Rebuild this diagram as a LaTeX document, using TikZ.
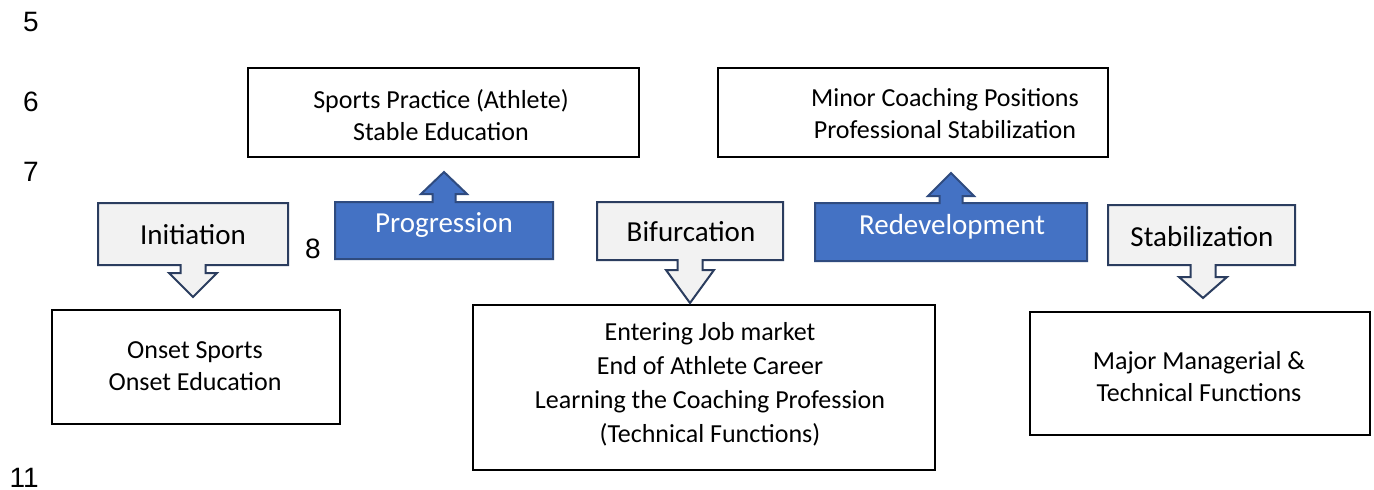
\documentclass[tikz,border=0pt]{standalone}
\usepackage{fontspec}
\setmainfont{Carlito}
\newfontfamily\numfont{Liberation Sans}
\definecolor{lightfill}{HTML}{F2F2F2}
\definecolor{navyline}{HTML}{2B3D5F}
\definecolor{bluefill}{HTML}{4472C4}
\definecolor{blueline}{HTML}{2F4B7F}
\newcommand{\calldown}[8]{\draw[#1] (#2,#3) -- (#4,#3) -- (#4,#5) -- ({#6+12.5},#5) -- ({#6+12.5},#7) -- ({#6+24},#7) -- (#6,#8) -- ({#6-24},#7) -- ({#6-12.5},#7) -- ({#6-12.5},#5) -- (#2,#5) -- cycle;}
\newcommand{\callup}[8]{\draw[#1] (#2,#5) -- (#2,#3) -- ({#6-11.5},#3) -- ({#6-11.5},#7) -- ({#6-23},#7) -- (#6,#8) -- ({#6+23},#7) -- ({#6+11.5},#7) -- ({#6+11.5},#3) -- (#4,#3) -- (#4,#5) -- cycle;}
\tikzset{
  stagebox/.style={draw=black, line width=1.6pt, fill=white, inner sep=0pt},
  boxtext/.style={font=\fontsize{26}{32}\selectfont, align=center, inner sep=0pt},
  lightcall/.style={draw=navyline, fill=lightfill, line width=2pt, line join=miter},
  bluecall/.style={draw=blueline, fill=bluefill, line width=2pt, line join=miter},
  calltext/.style={font=\fontsize{29}{34}\selectfont, inner sep=0pt},
  numtext/.style={font=\numfont\fontsize{28}{32}\selectfont, inner sep=0pt, anchor=east}
}
\begin{document}
\begin{tikzpicture}[x=1pt,y=-1pt]
\useasboundingbox[fill=white] (0,0) rectangle (1374,490);

% line numbers
\node[numtext] (n5) at (39,22) {5};
\node[numtext] (n6) at (39,102) {6};
\node[numtext] (n7) at (39,172) {7};
\node[numtext] (n8) at (321,249) {8};
\node[numtext] (n11) at (39,478) {11};

% top boxes
\node[stagebox, minimum width=391pt, minimum height=89pt] (b1) at (443.5,112.5) {};
\node[boxtext] (t1) at (441,115.5) {Sports Practice (Athlete)\\Stable Education};
\node[stagebox, minimum width=390pt, minimum height=89pt] (b2) at (913,112.5) {};
\node[boxtext] (t2) at (945,114) {Minor Coaching Positions\\Professional Stabilization};

% bottom boxes
\node[stagebox, minimum width=288pt, minimum height=114pt] (b3) at (196,367) {};
\node[boxtext] (t3) at (195,366.5) {Onset Sports\\Onset Education};
\node[stagebox, minimum width=462pt, minimum height=165pt] (b4) at (704,387.5) {};
\node[boxtext, font=\fontsize{26}{34}\selectfont] (t4) at (710,384) {Entering Job market\\End of Athlete Career\\Learning the Coaching Profession\\(Technical Functions)};
\node[stagebox, minimum width=340pt, minimum height=123pt] (b5) at (1200,373.5) {};
\node[boxtext] (t5) at (1199,376.5) {Major Managerial \&\\Technical Functions};

% callouts
\calldown{lightcall}{98}{203}{288}{265}{193}{273}{297}
\node[calltext] (c1) at (193,235) {Initiation};
\callup{bluecall}{335}{202}{553}{259}{444}{194}{172}
\node[calltext, text=white] (c2) at (444,225) {Progression};
\calldown{lightcall}{597}{202}{783}{260}{690}{270}{303}
\node[calltext] (c3) at (691,232) {Bifurcation};
\callup{bluecall}{815}{203}{1087}{261}{951}{196}{173}
\node[calltext, text=white] (c4) at (952,227) {Redevelopment};
\calldown{lightcall}{1108}{205}{1295}{265}{1203}{277}{298}
\node[calltext] (c5) at (1202,237) {Stabilization};
\end{tikzpicture}
\end{document}
